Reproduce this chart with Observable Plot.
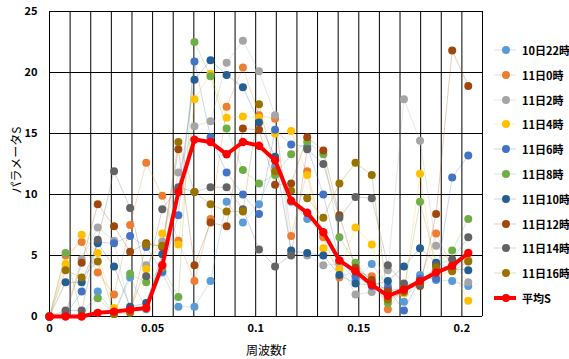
<!DOCTYPE html>
<html><head><meta charset="utf-8">
<script src="https://cdn.jsdelivr.net/npm/d3@7"></script>
<script src="https://cdn.jsdelivr.net/npm/@observablehq/plot@0.6"></script>
<style>
body{margin:0;background:#fff;}
#wrap{position:relative;width:569px;height:359px;font-family:'Noto Sans CJK JP',sans-serif;color:#000;}
.ytitle{position:absolute;left:15px;top:160px;transform:translate(-50%,-50%) rotate(-90deg);font-size:12px;white-space:nowrap;}
.xtitle{position:absolute;left:266px;top:349px;transform:translate(-50%,-50%);font-size:12px;white-space:nowrap;}
#legend{position:absolute;left:494px;top:37.6px;}
.item{display:flex;align-items:center;height:24.8px;font-size:11px;font-weight:bold;white-space:nowrap;}
.item svg{margin-right:6px;}
</style>
</head><body>
<div id="wrap"></div>
<script>
const freqs = [0, 0.0078, 0.0156, 0.0234, 0.0313, 0.0391, 0.0469, 0.0547, 0.0625, 0.0703, 0.0781, 0.0859, 0.0938, 0.1016, 0.1094, 0.1172, 0.125, 0.1328, 0.1406, 0.1484, 0.1563, 0.1641, 0.1719, 0.1797, 0.1875, 0.1953, 0.2031];
const seriesNames = ["10日22時","11日0時","11日2時","11日4時","11日6時","11日8時","11日10時","11日12時","11日14時","11日16時"];
const seriesColors = ["#5B9BD5","#ED7D31","#A5A5A5","#FFC000","#4472C4","#70AD47","#255E91","#9E480E","#636363","#997300"];
const s10d22 = [0,0.1,0.1,2.05,0.2,3.2,0.6,3.6,0.8,0.8,2.9,9.4,7.7,9.2,12.3,9.4,8.0,6.7,4.4,3.0,4.3,2.5,1.2,3.4,3.0,2.9,2.5];
const s11d0  = [0,5.0,6.1,3.6,1.8,7.5,12.6,9.9,6.2,2.9,8.0,17.2,20.4,16.5,16.2,6.6,11.9,6.5,3.2,3.7,3.3,0.6,2.4,3.0,6.8,4.0,4.6];
const s11d2  = [0,0.3,4.7,7.3,6.2,0.4,4.2,6.15,11.8,15.6,16.0,20.8,22.6,20.1,16.5,5.1,5.0,4.2,4.3,1.8,2.0,3.8,17.8,14.4,5.8,4.3,2.8];
const s11d4  = [0,4.3,6.7,5.2,0.7,0.5,3.9,6.8,5.9,17.8,19.9,16.3,16.4,16.3,15.0,15.2,11.6,5.6,3.9,7.3,5.9,1.9,1.9,11.7,3.2,3.8,1.3];
const s11d6  = [0,0.1,2.05,6.1,6.0,6.6,5.7,3.7,8.3,20.9,14.7,11.8,10.0,8.4,15.3,14.1,13.9,10.0,4.6,3.3,2.5,2.3,0.5,3.1,3.1,11.4,13.2];
const s11d8  = [0,5.2,0.1,1.5,0.2,3.5,2.8,4.0,1.6,22.5,19.7,15.4,12.0,10.9,11.6,13.3,14.3,13.3,6.5,4.4,2.8,1.1,2.2,9.4,4.3,5.4,8.0];
const s11d10 = [0,2.8,2.8,6.0,4.1,0.8,1.1,5.1,10.4,19.4,21.0,19.8,18.8,15.9,13.1,5.4,5.2,5.0,3.4,2.7,2.6,2.9,4.1,5.6,4.4,3.9,3.8];
const s11d12 = [0,0.1,4.4,9.2,7.4,5.3,6.0,5.7,13.7,4.2,7.7,7.4,15.4,15.3,10.8,10.9,14.7,13.6,8.3,4.0,3.0,2.1,2.3,2.5,8.4,21.8,18.9];
const s11d14 = [0,0.5,0.5,6.3,11.9,8.9,3.3,8.8,10.6,10.2,10.6,10.6,8.8,5.5,4.1,5.0,13.7,12.5,8.1,9.8,9.7,4.2,2.7,2.6,4.2,4.7,6.5];
const s11d16 = [0,3.8,3.2,4.5,0.2,0.3,5.9,5.8,14.3,10.2,9.2,8.6,8.6,17.4,11.9,10.3,9.7,8.1,10.9,12.6,11.6,1.4,2.0,2.8,4.0,3.7,4.5];
const avgS   = [0,0,0,0.3,0.4,0.55,0.7,4.2,10.2,14.5,14.3,13.3,14.3,14.0,12.8,9.5,8.5,6.9,4.6,3.7,2.6,1.7,2.2,2.9,3.6,4.15,5.2];
const avgName = "平均S";
const avgColor = "#FF0000";
const xTicks = [0, 0.05, 0.1, 0.15, 0.2];
const xTickLabels = ["0", "0.05", "0.1", "0.15", "0.2"];
const yTicks = [0, 5, 10, 15, 20, 25];
const yTickLabels = ["0", "5", "10", "15", "20", "25"];
const xGrid = [0,0.01,0.02,0.03,0.04,0.05,0.06,0.07,0.08,0.09,0.1,0.11,0.12,0.13,0.14,0.15,0.16,0.17,0.18,0.19,0.2,0.21];
const xTitle = "周波数f";
const yTitle = "パラメータS";

const seriesValues = [s10d22,s11d0,s11d2,s11d4,s11d6,s11d8,s11d10,s11d12,s11d14,s11d16];
const data = [];
seriesValues.forEach((vals, si) => vals.forEach((v, i) => data.push({series: seriesNames[si], f: freqs[i], v})));
const avgData = avgS.map((v, i) => ({f: freqs[i], v}));

const font = "'Noto Sans CJK JP', sans-serif";
const chart = Plot.plot({
  width: 569, height: 359,
  marginLeft: 49, marginRight: 87, marginTop: 11, marginBottom: 43,
  style: {fontFamily: font, fontSize: "11px", background: "#fff", color: "#000"},
  x: {domain: [0, 0.21]},
  y: {domain: [0, 25]},
  color: {domain: seriesNames, range: seriesColors},
  marks: [
    Plot.ruleX(xGrid, {stroke: "#000", strokeWidth: 1}),
    Plot.ruleY(yTicks, {stroke: "#000", strokeWidth: 1}),
    Plot.line(data, {x: "f", y: "v", z: "series", stroke: "series", strokeWidth: 0.8, strokeOpacity: 0.35}),
    Plot.dot(data, {x: "f", y: "v", fill: "series", r: 4, stroke: "none"}),
    Plot.line(avgData, {x: "f", y: "v", stroke: avgColor, strokeWidth: 4}),
    Plot.dot(avgData, {x: "f", y: "v", fill: avgColor, r: 4.2, stroke: "none"}),
    Plot.axisX({ticks: xTicks, tickFormat: d => xTickLabels[xTicks.indexOf(d)], tickSize: 0, tickPadding: 8, fontSize: 11, fontWeight: "bold", label: null}),
    Plot.axisY({ticks: yTicks, tickFormat: d => yTickLabels[yTicks.indexOf(d)], tickSize: 0, tickPadding: 12, fontSize: 11, fontWeight: "bold", label: null})
  ]
});
const wrap = document.getElementById("wrap");
wrap.appendChild(chart);

const yt = document.createElement("div"); yt.className = "ytitle"; yt.textContent = yTitle; wrap.appendChild(yt);
const xt = document.createElement("div"); xt.className = "xtitle"; xt.textContent = xTitle; wrap.appendChild(xt);

const legend = document.createElement("div"); legend.id = "legend";
const items = seriesNames.map((n, i) => ({name: n, color: seriesColors[i], avg: false})).concat([{name: avgName, color: avgColor, avg: true}]);
items.forEach(it => {
  const row = document.createElement("div"); row.className = "item";
  const sw = it.avg ? 4 : 0.8, so = it.avg ? 1 : 0.35;
  row.innerHTML = `<svg width="22" height="10"><line x1="0" x2="22" y1="5" y2="5" stroke="${it.color}" stroke-width="${sw}" stroke-opacity="${so}"/><circle cx="12" cy="5" r="4" fill="${it.color}"/></svg><span>${it.name}</span>`;
  legend.appendChild(row);
});
wrap.appendChild(legend);
</script>
</body></html>
